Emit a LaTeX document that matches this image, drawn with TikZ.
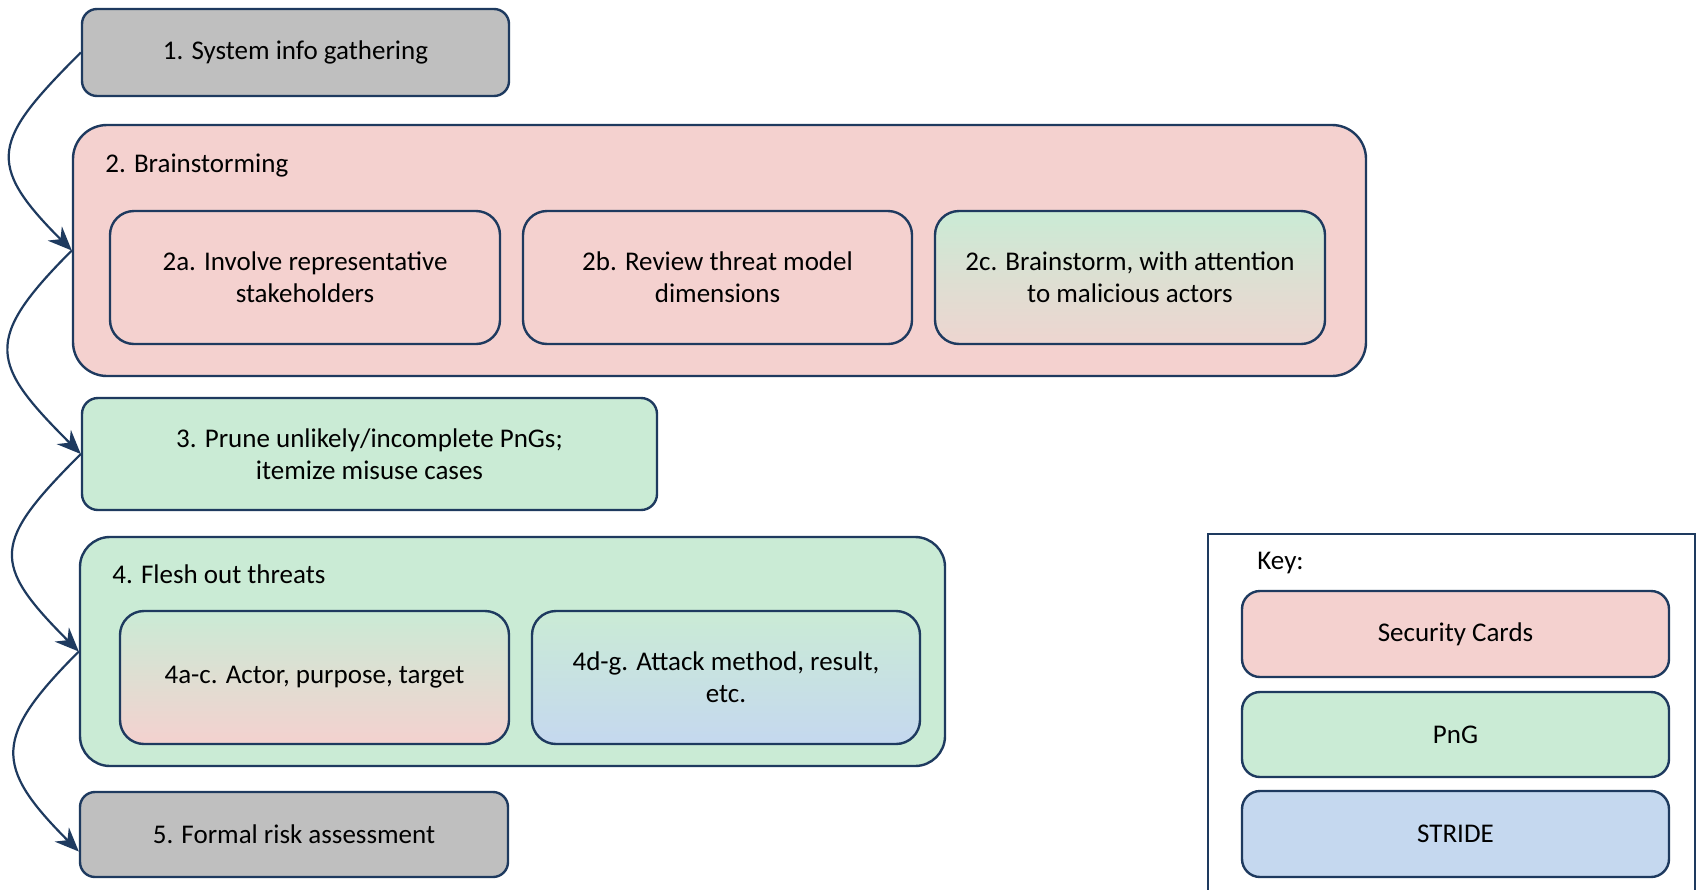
\documentclass[tikz,border=0pt]{standalone}
\usepackage{fontspec}
\setmainfont{Carlito}
\usetikzlibrary{arrows.meta,calc}
\definecolor{bordc}{HTML}{1E3A5F}
\definecolor{grayf}{HTML}{BFBFBF}
\definecolor{pinkf}{HTML}{F4D1CF}
\definecolor{greenf}{HTML}{CAEBD5}
\definecolor{bluef}{HTML}{C5D8EF}
\tikzset{
  box/.style={draw=bordc, line width=1.2pt, inner sep=0pt, align=center, font=\fontsize{13.5}{16}\selectfont},
  sz/.style 2 args={minimum width={(#1)*0.5pt}, minimum height={(#2)*0.5pt}},
  lbl/.style={anchor=base west, inner sep=0pt, font=\fontsize{13.5}{16}\selectfont},
  flow/.style={draw=bordc, line width=1.1pt, -{Stealth[length=12pt,width=10pt,inset=4pt]}},
}
\begin{document}
\begin{tikzpicture}[x=0.5pt,y=-0.5pt]
\useasboundingbox (0,0) rectangle (1696,889);
\clip (0,0) rectangle (1696,889);
\fill[white] (0,0) rectangle (1696,889);
% main steps
\node[box, fill=grayf, rounded corners=7.5pt, sz={427}{87}] (b1) at (295.5,52.5) {1. System info gathering};
\node[box, fill=pinkf, rounded corners=17pt, sz={1293}{251}] (b2) at (719.5,250.5) {};
\node[lbl] (b2l) at (105,172) {2. Brainstorming};
\node[box, fill=pinkf, rounded corners=12pt, sz={390}{133}] (b2a) at (305,277.5) {2a. Involve representative\\stakeholders};
\node[box, fill=pinkf, rounded corners=12pt, sz={389}{133}] (b2b) at (717.5,277.5) {2b. Review threat model\\dimensions};
\node[box, top color=greenf, bottom color=pinkf!85!greenf, middle color=greenf!55!pinkf, rounded corners=12pt, sz={390}{133}] (b2c) at (1130,277.5) {2c. Brainstorm, with attention\\to malicious actors};
\node[box, fill=greenf, rounded corners=8pt, sz={575}{112}] (b3) at (369.5,454) {3. Prune unlikely/incomplete PnGs;\\itemize misuse cases};
\node[box, fill=greenf, rounded corners=15pt, sz={865}{229}] (b4) at (512.5,651.5) {};
\node[lbl] (b4l) at (112,583) {4. Flesh out threats};
\node[box, top color=greenf, bottom color=pinkf, middle color=greenf!50!pinkf, rounded corners=12pt, sz={389}{133}] (b4a) at (314.5,677.5) {4a-c. Actor, purpose, target};
\node[box, top color=greenf, bottom color=bluef, middle color=greenf!50!bluef, rounded corners=12pt, sz={388}{133}] (b4d) at (726,677.5) {4d-g. Attack method, result,\\etc.};
\node[box, fill=grayf, rounded corners=7.5pt, sz={428}{85}] (b5) at (294,834.5) {5. Formal risk assessment};
% key
\node[box, fill=white, line width=1pt, sz={487}{371}] (key) at (1451.5,719.5) {};
\node[lbl] (keyl) at (1257,569) {Key:};
\node[box, fill=pinkf, rounded corners=9pt, sz={427}{86}] (k1) at (1455.5,634) {Security Cards};
\node[box, fill=greenf, rounded corners=9pt, sz={427}{85}] (k2) at (1455.5,734.5) {PnG};
\node[box, fill=bluef, rounded corners=9pt, sz={427}{86}] (k3) at (1455.5,834) {STRIDE};
% connectors
\coordinate (b5in) at ([yshift=-8.5pt]b5.west);
\draw[flow] (b1.west) to[out=225,in=135,looseness=1.6] (b2.west);
\draw[flow] (b2.west) to[out=225,in=135,looseness=1.6] (b3.west);
\draw[flow] (b3.west) to[out=225,in=135,looseness=1.62] (b4.west);
\draw[flow] (b4.west) to[out=225,in=135,looseness=1.55] (b5in);
\end{tikzpicture}
\end{document}
